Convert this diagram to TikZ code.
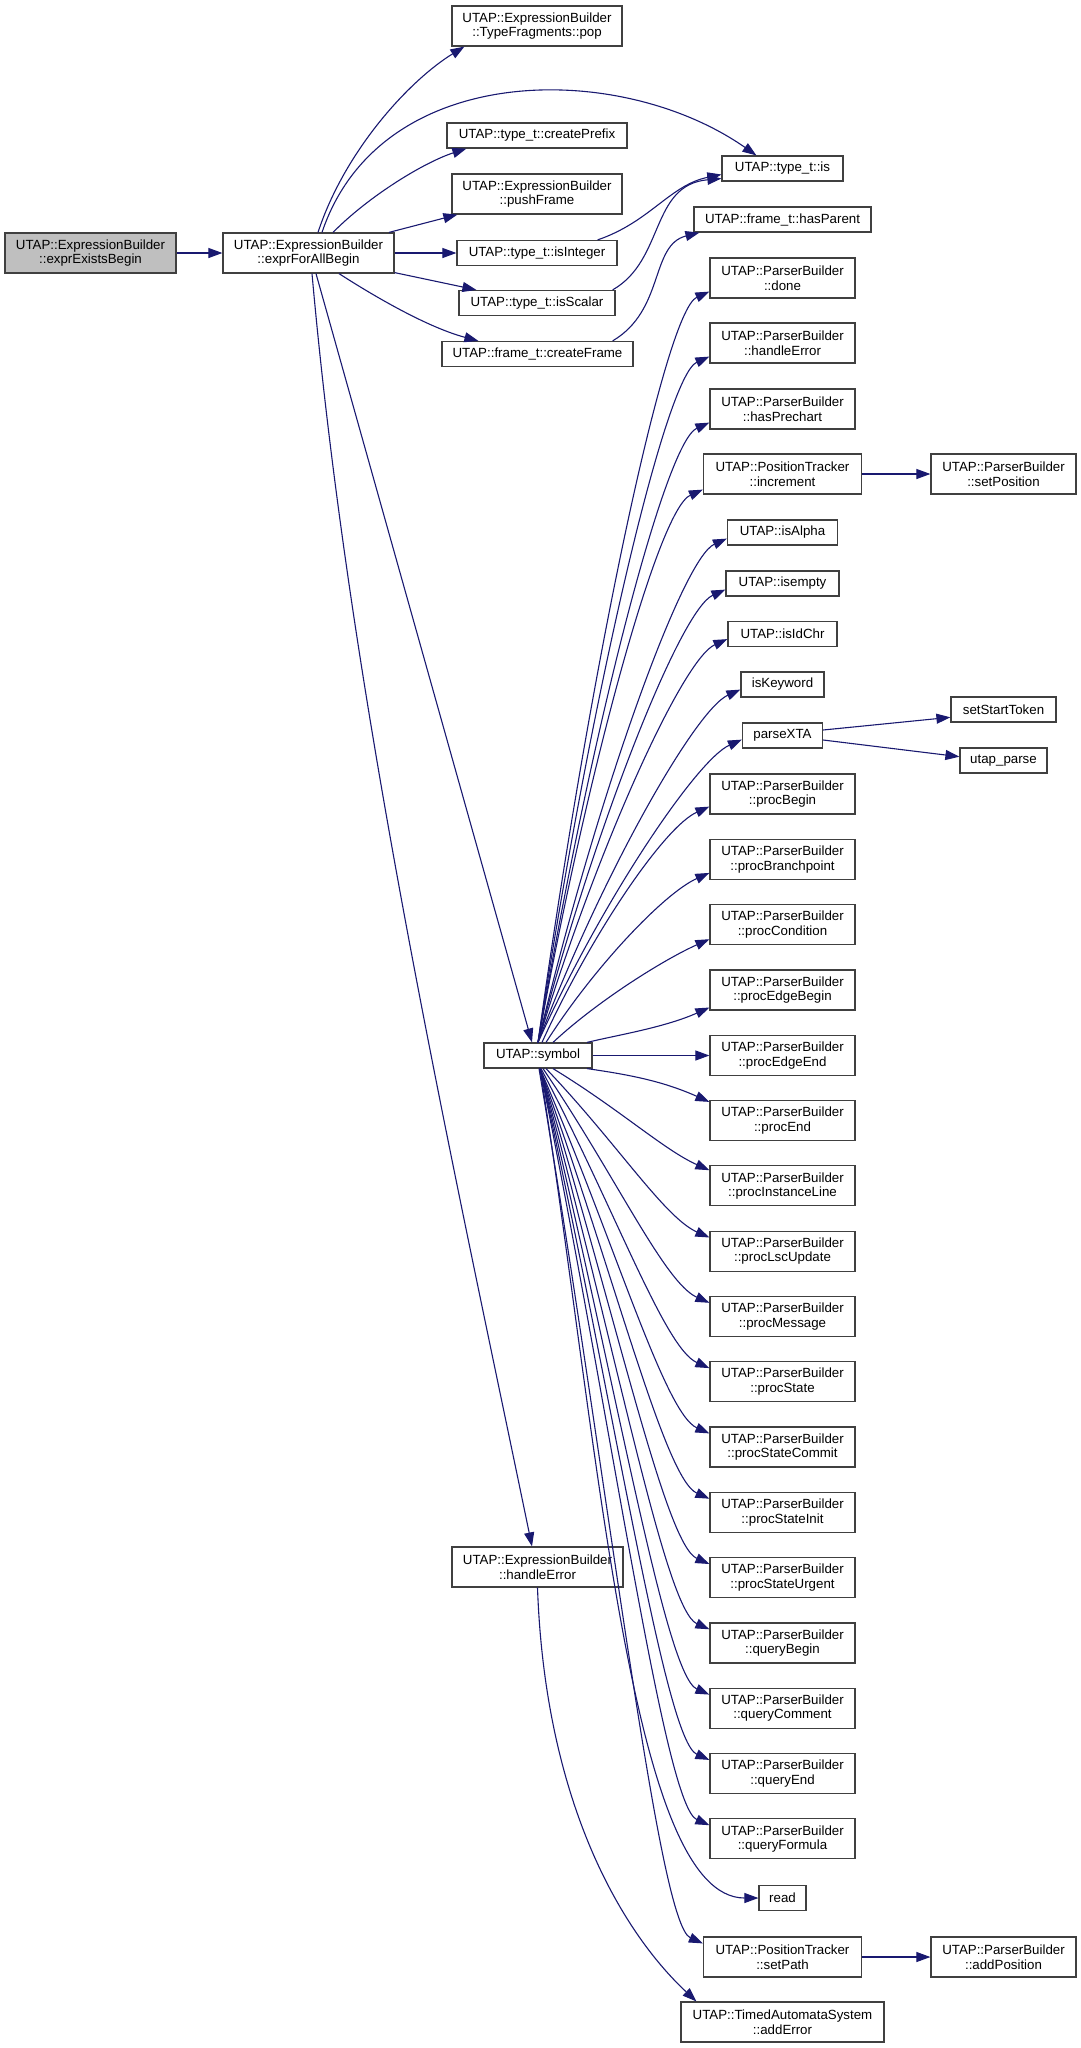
\documentclass[tikz,border=0pt]{standalone}
\usepackage{fontspec}
\setmainfont{Liberation Sans}
\usetikzlibrary{arrows.meta,calc}
\definecolor{edgec}{HTML}{191970}
\definecolor{bordc}{HTML}{404040}
\definecolor{rootc}{HTML}{BFBFBF}
\newcommand\symup[2]{\draw[calledge] let \p1=(#1), \p2=(#2), \p3=({\x2-45pt},{\y2-20pt}) in (\p1) .. controls ({\x1+0.4*(\x3-\x1)},{\y1+0.5*(\y3-\y1)}) and (\p3) .. (\p2);}
\newcommand\symdown[2]{\draw[calledge] let \p1=(#1), \p2=(#2), \p3=({min(\x2-45pt,665pt)},{\y2+20pt}) in (\p1) .. controls ({\x1+0.6*(\x3-\x1)},{\y1+0.5*(\y3-\y1)}) and (\p3) .. (\p2);}
\begin{document}
\begin{tikzpicture}[x=1pt,y=-1pt,
  font=\fontsize{13.3}{14.5}\selectfont,
  nbox/.style={draw=bordc, line width=1.2pt, fill=white, inner sep=0pt, align=center, text=black},
  one/.style={nbox, minimum height=25pt},
  two/.style={nbox, minimum height=40pt},
  pb/.style={two, minimum width=145pt},
  calledge/.style={draw=edgec, line width=1.1pt, -{Triangle[length=14pt,width=10pt]}}]
\useasboundingbox (0,0) rectangle (1081,2048);
% column 1 and 2
\node[two, minimum width=171pt, fill=rootc] (exists) at (90.5,253) {UTAP::ExpressionBuilder\\::exprExistsBegin};
\node[two, minimum width=171pt] (forall) at (308.5,253) {UTAP::ExpressionBuilder\\::exprForAllBegin};
% column 3
\node[two, minimum width=170pt] (pop) at (537,26) {UTAP::ExpressionBuilder\\::TypeFragments::pop};
\node[one, minimum width=180pt] (prefix) at (537,135.5) {UTAP::type\_t::createPrefix};
\node[two, minimum width=170pt] (push) at (537,194) {UTAP::ExpressionBuilder\\::pushFrame};
\node[one, minimum width=160pt] (isint) at (537,253) {UTAP::type\_t::isInteger};
\node[one, minimum width=156pt] (isscal) at (537,303) {UTAP::type\_t::isScalar};
\node[one, minimum width=191pt] (cframe) at (537.5,354) {UTAP::frame\_t::createFrame};
\node[one, minimum width=108pt] (symbol) at (538,1055.5) {UTAP::symbol};
\node[two, minimum width=171pt] (eberr) at (537.5,1567) {UTAP::ExpressionBuilder\\::handleError};
% column 4
\node[one, minimum width=121pt] (is) at (782.5,168.5) {UTAP::type\_t::is};
\node[one, minimum width=177pt] (haspar) at (782.5,219.5) {UTAP::frame\_t::hasParent};
\node[pb] (done) at (782.5,278) {UTAP::ParserBuilder\\::done};
\node[pb] (pberr) at (782.5,343) {UTAP::ParserBuilder\\::handleError};
\node[pb] (prechart) at (782.5,409) {UTAP::ParserBuilder\\::hasPrechart};
\node[two, minimum width=158pt] (incr) at (782.5,474) {UTAP::PositionTracker\\::increment};
\node[one, minimum width=110pt] (alpha) at (782.5,532.5) {UTAP::isAlpha};
\node[one, minimum width=113pt] (empty) at (782.5,583.5) {UTAP::isempty};
\node[one, minimum width=109pt] (idchr) at (782.5,634) {UTAP::isIdChr};
\node[one, minimum width=83pt] (kw) at (782.5,684.5) {isKeyword};
\node[one, minimum width=80pt] (xta) at (782.5,735.5) {parseXTA};
\node[pb] (pBegin) at (782.5,794) {UTAP::ParserBuilder\\::procBegin};
\node[pb] (pBranch) at (782.5,859.3) {UTAP::ParserBuilder\\::procBranchpoint};
\node[pb] (pCond) at (782.5,924.6) {UTAP::ParserBuilder\\::procCondition};
\node[pb] (pEdgeBegin) at (782.5,989.9) {UTAP::ParserBuilder\\::procEdgeBegin};
\node[pb] (pEdgeEnd) at (782.5,1055.5) {UTAP::ParserBuilder\\::procEdgeEnd};
\node[pb] (pEnd) at (782.5,1120.5) {UTAP::ParserBuilder\\::procEnd};
\node[pb] (pInst) at (782.5,1185.8) {UTAP::ParserBuilder\\::procInstanceLine};
\node[pb] (pLsc) at (782.5,1251.1) {UTAP::ParserBuilder\\::procLscUpdate};
\node[pb] (pMsg) at (782.5,1316.4) {UTAP::ParserBuilder\\::procMessage};
\node[pb] (pState) at (782.5,1381.7) {UTAP::ParserBuilder\\::procState};
\node[pb] (pCommit) at (782.5,1447) {UTAP::ParserBuilder\\::procStateCommit};
\node[pb] (pInit) at (782.5,1512.3) {UTAP::ParserBuilder\\::procStateInit};
\node[pb] (pUrgent) at (782.5,1577.6) {UTAP::ParserBuilder\\::procStateUrgent};
\node[pb] (qBegin) at (782.5,1642.9) {UTAP::ParserBuilder\\::queryBegin};
\node[pb] (qComment) at (782.5,1708.2) {UTAP::ParserBuilder\\::queryComment};
\node[pb] (qEnd) at (782.5,1773.5) {UTAP::ParserBuilder\\::queryEnd};
\node[pb] (qFormula) at (782.5,1838.8) {UTAP::ParserBuilder\\::queryFormula};
\node[one, minimum width=47pt] (read) at (782.5,1898) {read};
\node[two, minimum width=158pt] (setpath) at (782.5,1957) {UTAP::PositionTracker\\::setPath};
\node[two, minimum width=203pt] (adderr) at (782.5,2022) {UTAP::TimedAutomataSystem\\::addError};
% column 5
\node[pb] (setpos) at (1003.5,474) {UTAP::ParserBuilder\\::setPosition};
\node[one, minimum width=105pt] (sst) at (1003.5,709.5) {setStartToken};
\node[one, minimum width=87pt] (uparse) at (1003.5,760.5) {utap\_parse};
\node[pb] (addpos) at (1003.5,1957) {UTAP::ParserBuilder\\::addPosition};
% edges from the root
\draw[calledge] (exists.east) -- (forall.west);
% edges from exprForAllBegin
\draw[calledge] ([xshift=9.5pt]forall.north) .. controls (345,150) and (410,80) .. ([xshift=13pt]pop.south west);
\draw[calledge] ([xshift=13.5pt]forall.north) .. controls (380,60) and (620,60) .. ([xshift=35pt]is.north west);
\draw[calledge] ([xshift=24.5pt]forall.north) .. controls (370,195) and (425,162) .. ([xshift=20pt]prefix.south west);
\draw[calledge] ([xshift=80.5pt]forall.north) -- ([xshift=6pt]push.south west);
\draw[calledge] (forall.east) -- (isint.west);
\draw[calledge] ([yshift=1pt]forall.south east) -- ([xshift=18pt]isscal.north west);
\draw[calledge] ([xshift=30.5pt]forall.south) .. controls (380,300) and (430,328) .. ([xshift=37pt]cframe.north west);
\draw[calledge] ([xshift=7.5pt]forall.south) -- ([xshift=-6pt]symbol.north);
\draw[calledge] ([xshift=3.5pt]forall.south) .. controls (350,700) and (450,1150) .. ([xshift=-5.5pt]eberr.north);
% column 3 to column 4
\draw[calledge] ([xshift=-20pt]isint.north east) .. controls (650,222) and (670,185) .. ([yshift=-6pt]is.west);
\draw[calledge] ([xshift=-3pt]isscal.north east) .. controls (665,260) and (650,185) .. ([yshift=-10pt]is.west);
\draw[calledge] ([xshift=-21pt]cframe.north east) .. controls (665,310) and (650,245) .. ([xshift=6pt]haspar.south west);
\draw[calledge] (eberr.south) .. controls (545,1800) and (620,1930) .. ([xshift=16pt]adderr.north west);
% column 4 to column 5
\draw[calledge] (incr.east) -- (setpos.west);
\draw[calledge] ([yshift=5.5pt]xta.east) -- ([yshift=-7.8pt]sst.west);
\draw[calledge] ([yshift=-4.5pt]xta.east) -- ([yshift=3.8pt]uparse.west);
\draw[calledge] (setpath.east) -- (addpos.west);
% edges from UTAP::symbol, upwards
\symup{symbol.north}{[yshift=7pt]done.south west}
\symup{symbol.north}{[yshift=7pt]pberr.south west}
\symup{symbol.north}{[yshift=7pt]prechart.south west}
\symup{symbol.north}{[yshift=5pt]incr.south west}
\symup{symbol.north}{[yshift=7pt]alpha.south west}
\symup{symbol.north}{[yshift=7pt]empty.south west}
\symup{symbol.north}{[yshift=8pt]idchr.south west}
\symup{symbol.north}{[yshift=8pt]kw.south west}
\symup{symbol.north}{[yshift=9pt]xta.south west}
\symup{[xshift=4pt]symbol.north}{[yshift=8pt]pBegin.south west}
\symup{[xshift=8pt]symbol.north}{[yshift=7pt]pBranch.south west}
\symup{[xshift=15pt]symbol.north}{[yshift=6pt]pCond.south west}
\symup{[xshift=49pt]symbol.north}{[yshift=3pt]pEdgeBegin.south west}
\draw[calledge] (symbol.east) -- (pEdgeEnd.west);
% edges from UTAP::symbol, downwards
\symdown{[xshift=49pt]symbol.south}{[yshift=-2pt]pEnd.north west}
\symdown{[xshift=15pt]symbol.south}{[yshift=-5pt]pInst.north west}
\symdown{[xshift=8pt]symbol.south}{[yshift=-7pt]pLsc.north west}
\symdown{[xshift=5pt]symbol.south}{[yshift=-7pt]pMsg.north west}
\symdown{[xshift=3pt]symbol.south}{[yshift=-7pt]pState.north west}
\symdown{[xshift=2pt]symbol.south}{[yshift=-7pt]pCommit.north west}
\symdown{[xshift=2pt]symbol.south}{[yshift=-7pt]pInit.north west}
\symdown{[xshift=2pt]symbol.south}{[yshift=-7pt]pUrgent.north west}
\symdown{[xshift=2pt]symbol.south}{[yshift=-7pt]qBegin.north west}
\symdown{[xshift=2pt]symbol.south}{[yshift=-7pt]qComment.north west}
\symdown{[xshift=2pt]symbol.south}{[yshift=-7pt]qEnd.north west}
\symdown{[xshift=2pt]symbol.south}{[yshift=-7pt]qFormula.north west}
\draw[calledge] ([xshift=2pt]symbol.south) .. controls (600,1450) and (630,1898) .. (read.west);
\symdown{[xshift=1pt]symbol.south}{[yshift=-7pt]setpath.north west}
\end{tikzpicture}
\end{document}
